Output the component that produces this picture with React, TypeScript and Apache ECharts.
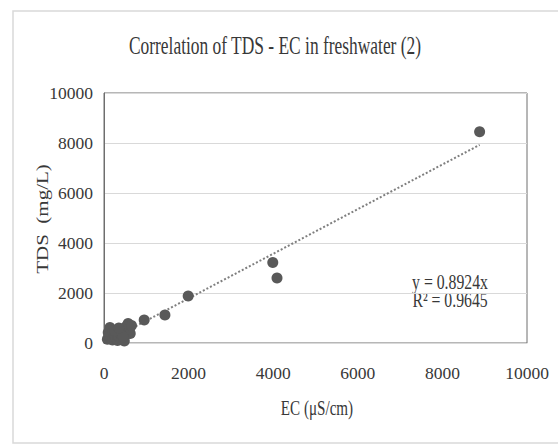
import React, { useEffect, useRef } from "react";
import * as echarts from "echarts";

const titleText = "Correlation of TDS - EC in freshwater (2)";
const xName = "EC (μS/cm)";
const yName = "TDS  (mg/L)";
const slope = 0.8924;
const equationText = "y = 0.8924x";
const r2Text = "R² = 0.9645";

// EC (µS/cm)
const ecValues = [
  80, 100, 120, 140, 150, 180, 200, 220, 250, 280, 300, 320, 350, 380, 400, 420, 450, 480, 500, 520,
  550, 570, 600, 620, 650, 450, 250, 350, 950, 1440, 1990, 3990, 4090, 8880,
];
// TDS (mg/L)
const tdsValues = [
  150, 420, 300, 620, 200, 380, 120, 480, 300, 200, 420, 100, 260, 480, 350, 150, 560, 80, 300, 650,
  450, 780, 550, 380, 700, 250, 500, 600, 920, 1120, 1880, 3220, 2600, 8450,
];

const axisMin = 0;
const axisMax = 10000;
const axisInterval = 2000;

export default function App() {
  const ref = useRef<HTMLDivElement>(null);
  useEffect(() => {
    if (!ref.current) return;
    const chart = echarts.init(ref.current, null, { renderer: "svg" });
    const points = ecValues.map((x, i) => [x, tdsValues[i]]);
    const xMinData = Math.min(...ecValues);
    const xMaxData = Math.max(...ecValues);
    const trend = [
      [xMinData, slope * xMinData],
      [xMaxData, slope * xMaxData],
    ];
    const font = "Liberation Serif";
    const textColor = "#383838";
    const fmt = (v: number) => String(v);
    chart.setOption({
      animation: false,
      backgroundColor: "#ffffff",
      grid: {
        left: 104,
        top: 93,
        right: 31,
        bottom: 101,
        show: true,
        borderColor: "#6e6e6e",
        borderWidth: 1,
      },
      xAxis: {
        type: "value",
        min: axisMin,
        max: axisMax,
        interval: axisInterval,
        axisLine: { show: true, lineStyle: { color: "#d9d9d9", width: 1 } },
        axisTick: { show: false },
        splitLine: { show: false },
        axisLabel: { color: textColor, fontFamily: font, fontSize: 17.5, margin: 21, formatter: fmt },
      },
      yAxis: {
        type: "value",
        min: axisMin,
        max: axisMax,
        interval: axisInterval,
        axisLine: { show: true, lineStyle: { color: "#6e6e6e", width: 1 } },
        axisTick: { show: false },
        splitLine: { show: true, lineStyle: { color: "#d9d9d9", width: 1 } },
        axisLabel: { color: textColor, fontFamily: font, fontSize: 17.5, margin: 11, formatter: fmt },
      },
      series: [
        {
          type: "line",
          data: trend,
          showSymbol: false,
          symbol: "none",
          lineStyle: { color: "#7f7f7f", width: 2, type: [2, 2] },
          z: 2,
        },
        {
          type: "scatter",
          data: points,
          symbol: "circle",
          symbolSize: 11,
          itemStyle: { color: "#595959", opacity: 1 },
          z: 3,
        },
      ],
      graphic: [
        {
          type: "rect",
          shape: { x: 13, y: 11, width: 560, height: 432 },
          style: { fill: "none", stroke: "#d9d9d9", lineWidth: 1.5 },
          z: -10,
          silent: true,
        },
        {
          type: "text",
          x: 275,
          y: 45,
          scaleX: 0.67,
          style: {
            text: titleText,
            fontFamily: font,
            fontSize: 26,
            fill: textColor,
            textAlign: "center",
            textVerticalAlign: "middle",
          },
        },
        {
          type: "text",
          x: 42,
          y: 219,
          rotation: Math.PI / 2,
          scaleY: 0.78,
          style: {
            text: yName,
            fontFamily: font,
            fontSize: 21,
            fill: textColor,
            textAlign: "center",
            textVerticalAlign: "middle",
          },
        },
        {
          type: "text",
          x: 317,
          y: 408,
          scaleX: 0.72,
          style: {
            text: xName,
            fontFamily: font,
            fontSize: 21,
            fill: textColor,
            textAlign: "center",
            textVerticalAlign: "middle",
          },
        },
        {
          type: "text",
          x: 450,
          y: 282,
          scaleX: 0.75,
          style: {
            text: equationText,
            fontFamily: font,
            fontSize: 21,
            fill: textColor,
            textAlign: "center",
            textVerticalAlign: "middle",
          },
        },
        {
          type: "text",
          x: 450,
          y: 300,
          scaleX: 0.75,
          style: {
            text: r2Text,
            fontFamily: font,
            fontSize: 21,
            fill: textColor,
            textAlign: "center",
            textVerticalAlign: "middle",
          },
        },
      ],
    });
    return () => chart.dispose();
  }, []);
  return (
    <div
      ref={ref}
      style={{ position: "fixed", left: 0, top: 0, width: 558, height: 444 }}
    />
  );
}
